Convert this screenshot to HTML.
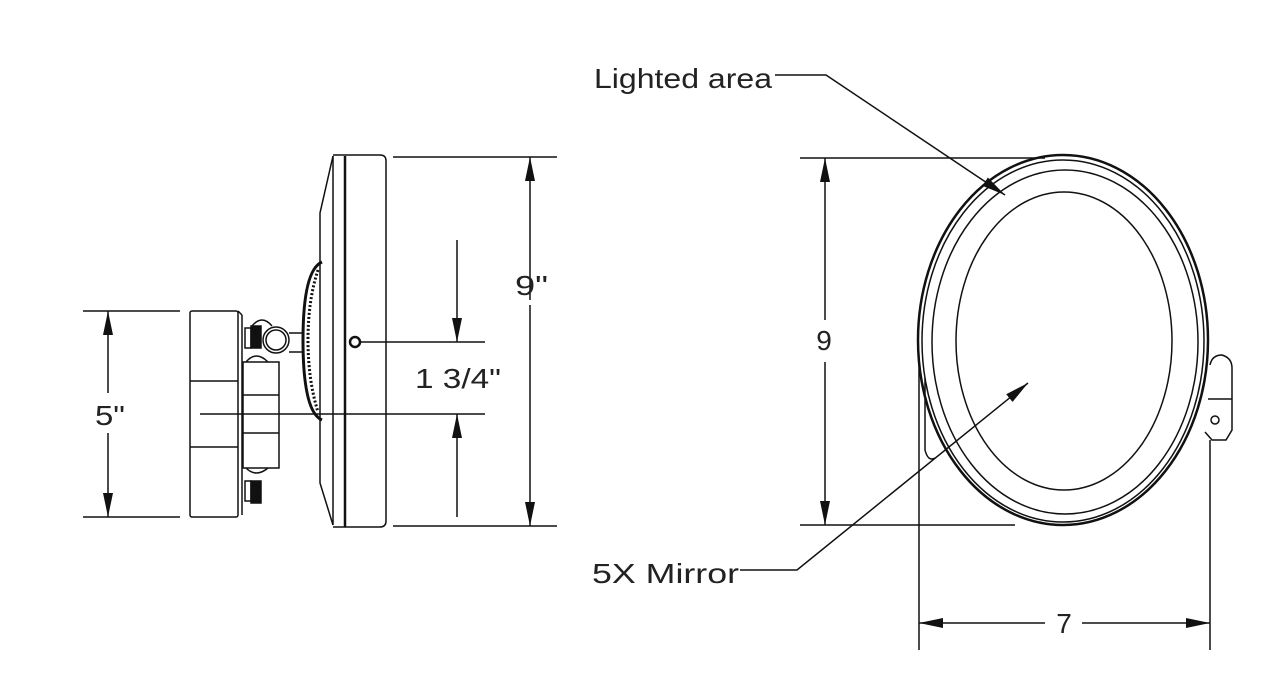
<!DOCTYPE html>
<html><head><style>html,body{margin:0;padding:0;background:#fff}svg{display:block}</style></head><body>
<svg width="1272" height="700" viewBox="0 0 1272 700" xmlns="http://www.w3.org/2000/svg" font-family="Liberation Sans, sans-serif" fill="none" stroke="#111" stroke-width="1.5">
<defs>
<marker id="b" viewBox="0 0 24 10" refX="24" refY="5" markerWidth="24" markerHeight="10" orient="auto" markerUnits="userSpaceOnUse"><path d="M0,0 L24,5 L0,10 z" fill="#111" stroke="none"/></marker>
</defs>
<!-- base block -->
<rect x="190" y="311" width="48" height="206" rx="2"/>
<line x1="238" y1="311" x2="242" y2="315"/><line x1="242" y1="315" x2="242" y2="515"/>
<line x1="190" y1="381" x2="238" y2="381"/><line x1="190" y1="447" x2="238" y2="447"/>
<rect x="245" y="328" width="6" height="20"/><rect x="251" y="326" width="10" height="22" fill="#111"/>
<path d="M252,326 Q262,314 272,326"/>
<rect x="245" y="481" width="6" height="20"/><rect x="251" y="481" width="10" height="22" fill="#111"/>
<rect x="243" y="362" width="36" height="106"/>
<line x1="243" y1="395" x2="279" y2="395"/><line x1="243" y1="433" x2="279" y2="433"/>
<path d="M246,362 Q256,350 268,362"/><path d="M246,468 Q256,478 268,468"/>
<circle cx="276" cy="340" r="13"/><circle cx="276" cy="340" r="10"/>
<line x1="289" y1="333" x2="303" y2="333"/><line x1="289" y1="352" x2="303" y2="352"/>
<path d="M322,262 Q303,270 303,340 Q303,412 322,420" stroke-width="3"/>
<path d="M318,270 Q308,300 308,340 Q308,380 318,412" stroke-dasharray="2 2" stroke-width="3"/>
<path d="M333,156 L320,213 L320,483 L333,525"/>
<line x1="333" y1="156" x2="333" y2="525"/>
<line x1="345" y1="156" x2="345" y2="527" stroke-width="2.5"/>
<path d="M333,155 L380,155 Q386,155 386,161 L386,521 Q386,527 380,527 L333,527"/>
<circle cx="355" cy="342" r="5" stroke-width="2.5"/>
<line x1="360" y1="342" x2="485" y2="342"/>
<line x1="200" y1="414" x2="485" y2="414"/>
<line x1="83" y1="311" x2="180" y2="311"/><line x1="83" y1="517" x2="180" y2="517"/>
<line x1="108" y1="393" x2="108" y2="311" marker-end="url(#b)"/>
<line x1="108" y1="433" x2="108" y2="517" marker-end="url(#b)"/>
<text x="95" y="425" font-size="28" fill="#222" stroke="none" textLength="30" lengthAdjust="spacingAndGlyphs">5"</text>
<line x1="457" y1="240" x2="457" y2="342" marker-end="url(#b)"/>
<line x1="457" y1="517" x2="457" y2="414" marker-end="url(#b)"/>
<text x="415" y="388" font-size="28" fill="#222" stroke="none" textLength="86" lengthAdjust="spacingAndGlyphs">1 3/4"</text>
<line x1="393" y1="157" x2="557" y2="157"/><line x1="393" y1="526" x2="557" y2="526"/>
<line x1="530" y1="300" x2="530" y2="157" marker-end="url(#b)"/>
<line x1="530" y1="305" x2="530" y2="526" marker-end="url(#b)"/>
<text x="515" y="295" font-size="28" fill="#222" stroke="none" textLength="33" lengthAdjust="spacingAndGlyphs">9"</text>
<line x1="800" y1="158" x2="1045" y2="158"/><line x1="800" y1="525" x2="1015" y2="525"/>
<line x1="825" y1="320" x2="825" y2="158" marker-end="url(#b)"/>
<line x1="825" y1="362" x2="825" y2="525" marker-end="url(#b)"/>
<text x="824" y="350" font-size="28" fill="#222" stroke="none" text-anchor="middle">9</text>
<path d="M925,378 L925,450 Q928,462 935,458" />
<ellipse cx="1063" cy="340" rx="145" ry="185" stroke-width="2.5"/>
<ellipse cx="1063" cy="341" rx="141" ry="181"/>
<ellipse cx="1065" cy="342" rx="133" ry="172"/>
<ellipse cx="1064" cy="341" rx="108" ry="149"/>
<path d="M1210,365 Q1212,355 1222,355 Q1232,358 1232,368 L1232,430 L1226,440 L1212,440 L1205,432"/>
<line x1="1208" y1="399" x2="1232" y2="399"/>
<circle cx="1215" cy="420" r="4"/>
<line x1="919" y1="362" x2="919" y2="650"/><line x1="1210" y1="440" x2="1210" y2="650"/>
<line x1="1045" y1="623" x2="919" y2="623" marker-end="url(#b)"/>
<line x1="1082" y1="623" x2="1210" y2="623" marker-end="url(#b)"/>
<text x="1064" y="633" font-size="28" fill="#222" stroke="none" text-anchor="middle">7</text>
<text x="594" y="88" font-size="28" fill="#222" stroke="none" textLength="178" lengthAdjust="spacingAndGlyphs">Lighted area</text>
<polyline points="775,75 826,75 1005,195" marker-end="url(#b)"/>
<text x="592" y="583" font-size="28" fill="#222" stroke="none" textLength="147" lengthAdjust="spacingAndGlyphs">5X Mirror</text>
<polyline points="740,570 797,570 1028,383" marker-end="url(#b)"/>
</svg>
</body></html>
